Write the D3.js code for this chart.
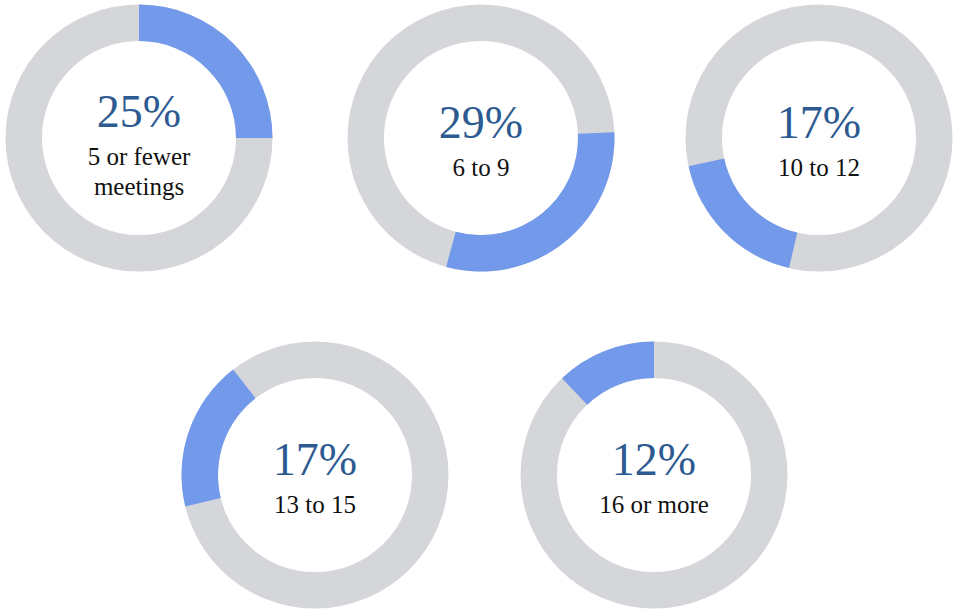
<!DOCTYPE html>
<html lang="en">

<head>
    <meta charset="UTF-8">
    <title>Meetings per year: donut charts</title>
    <script src="https://d3js.org/d3.v7.min.js"></script>
    <style>
        body {
            margin: 0;
            background: #ffffff;
        }

        .pct {
            font-family: "Liberation Serif", "DejaVu Serif", serif;
            fill: #2d5a91;
        }

        .lbl {
            font-family: "Liberation Serif", "DejaVu Serif", serif;
            fill: #111111;
        }
    </style>
</head>

<body>
    <div id="donuts"></div>
    <script>

        // share of respondents in each group (percent, as printed)
        const groups = ["5 or fewer\nmeetings", "6 to 9", "10 to 12", "13 to 15", "16 or more"];
        const shares = [25, 29, 17, 17, 12];
        // where each blue piece sits on its ring (percent of the full turn)
        const arcFrom = [0, 24.3, 53.6, 71.2, 87.9];
        const arcTo = [25, 54.2, 71.6, 89.5, 100];

        const width = 953,
            height = 609;
        const outerR = 133.5,
            innerR = 97;

        // centres of the five rings: three on top, two below
        const rowY = [138, 475];
        const slots = [
            { x: 139, row: 0 }, { x: 481, row: 0 }, { x: 819, row: 0 },
            { x: 315, row: 1 }, { x: 654, row: 1 }
        ];

        const svg = d3.select("#donuts")
            .append("svg")
            .attr("width", width)
            .attr("height", height);

        // percent -> angle
        const angle = d3.scaleLinear().domain([0, 100]).range([0, 2 * Math.PI]);

        const arc = d3.arc().innerRadius(innerR).outerRadius(outerR);

        const g = svg.selectAll("g.donut")
            .data(shares)
            .join("g")
            .attr("class", "donut")
            .attr("transform", (d, i) => "translate(" + slots[i].x + "," + rowY[slots[i].row] + ")");

        // grey full ring
        g.append("path")
            .attr("d", arc({ startAngle: 0, endAngle: 2 * Math.PI }))
            .style("fill", "#d5d6da");

        // blue share
        g.append("path")
            .attr("d", (d, i) => arc({ startAngle: angle(arcFrom[i]), endAngle: angle(arcTo[i]) }))
            .style("fill", "#7399eb");

        g.each(function (d, i) {
            const lines = groups[i].split("\n");
            const shift = (lines.length - 1) * -11;
            const node = d3.select(this);

            node.append("text")
                .attr("class", "pct")
                .attr("text-anchor", "middle")
                .attr("y", shift)
                .style("font-size", "46px")
                .text(d + "%");

            node.selectAll("text.lbl")
                .data(lines)
                .join("text")
                .attr("class", "lbl")
                .attr("text-anchor", "middle")
                .attr("y", (l, j) => shift + 38 + j * 30)
                .style("font-size", "25px")
                .text(l => l);
        });
    </script>
</body>

</html>
